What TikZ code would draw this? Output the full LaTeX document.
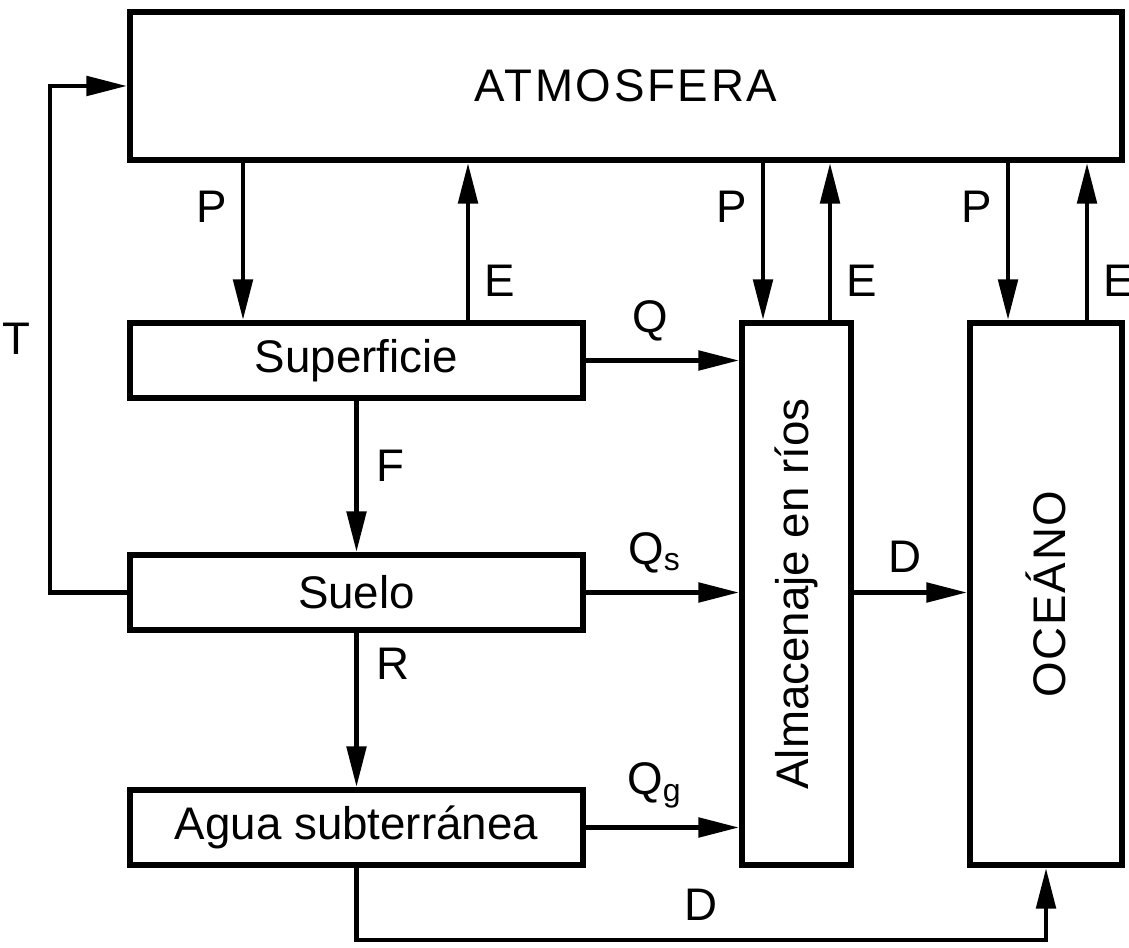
\documentclass[tikz,border=0pt]{standalone}
\usepackage{fontspec}
\setmainfont{Liberation Sans}
\usetikzlibrary{arrows.meta,positioning,calc}

\begin{document}
\begin{tikzpicture}[
    box/.style={draw, line width=1.8pt, inner sep=0pt, font=\fontsize{13}{15}\selectfont},
    flow/.style={line width=1.2pt, -{Triangle[length=11.5pt,width=5.5pt]}},
    lbl/.style={font=\fontsize{13}{15}\selectfont, inner sep=2pt}
  ]
  \useasboundingbox (0,0) rectangle (11.29,-9.48);
  % Boxes
  \node[box, minimum width=9.92cm, minimum height=1.48cm] (atm) at (6.26,-0.86) {\addfontfeature{LetterSpace=6}ATMOSFERA};
  \node[box, minimum width=4.53cm, minimum height=0.75cm] (sup) at (3.565,-3.605) {Superficie};
  \node[box, minimum width=4.53cm, minimum height=0.75cm] (sue) at (3.565,-5.925) {Suelo};
  \node[box, minimum width=4.53cm, minimum height=0.75cm] (agua) at (3.565,-8.275) {Agua subterránea};
  \node[box, minimum width=1.09cm, minimum height=5.42cm] (alm) at (7.965,-5.94) {};
  \node[box, minimum width=1.52cm, minimum height=5.42cm] (oce) at (10.46,-5.94) {};
  \node[lbl, rotate=90] (almtxt) at (alm.center) {Almacenaje en ríos};
  \node[lbl, rotate=90] (ocetxt) at (oce.center) {\addfontfeature{LetterSpace=4}OCEÁNO};
  % Vertical exchange with the atmosphere
  \coordinate (p1) at (2.43,0);
  \coordinate (e1) at (4.68,0);
  \coordinate (p2) at (7.63,0);
  \coordinate (e2) at (8.30,0);
  \coordinate (p3) at (10.08,0);
  \coordinate (e3) at (10.87,0);
  \draw[flow] (p1 |- atm.south) -- node[lbl, left=2pt, pos=0.28] {P} (p1 |- sup.north);
  \draw[flow] (e1 |- sup.north) -- node[lbl, right=2pt, pos=0.25] {E} (e1 |- atm.south);
  \draw[flow] (p2 |- atm.south) -- node[lbl, left=2pt, pos=0.28] {P} (p2 |- alm.north);
  \draw[flow] (e2 |- alm.north) -- node[lbl, right=2pt, pos=0.25] {E} (e2 |- atm.south);
  \draw[flow] (p3 |- atm.south) -- node[lbl, left=2pt, pos=0.28] {P} (p3 |- oce.north);
  \draw[flow] (e3 |- oce.north) -- node[lbl, right=2pt, pos=0.25] {E} (e3 |- atm.south);
  % Land column
  \draw[flow] (sup.south) -- node[lbl, right=3pt, pos=0.43] {F} (sue.north);
  \draw[flow] (sue.south) -- node[lbl, right=3pt, pos=0.2] {R} (agua.north);
  % Runoff to the rivers
  \draw[flow] (sup.east) -- node[lbl, above=3pt, pos=0.42] {Q} (sup.east -| alm.west);
  \draw[flow] (sue.east) -- node[lbl, above=3pt, pos=0.45] {Q$_\mathrm{s}$} (sue.east -| alm.west);
  \draw[flow] (agua.east) -- node[lbl, above=3pt, pos=0.45] {Q$_\mathrm{g}$} (agua.east -| alm.west);
  % Discharge to the ocean
  \draw[flow] (sue.east -| alm.east) -- node[lbl, above=3pt, pos=0.45] {D} (sue.east -| oce.west);
  \coordinate (dlow) at (3.565,-9.40);
  \draw[flow] (agua.south) -- (dlow) -| node[lbl, above=3pt, pos=0.25] {D} (oce.south);
  % Transpiration
  \coordinate (tleft) at (0.50,0);
  \draw[flow] (sue.west) -- (sue.west -| tleft) |- node[lbl, left=3pt, pos=0.25] {T} (atm.west);
\end{tikzpicture}
\end{document}
